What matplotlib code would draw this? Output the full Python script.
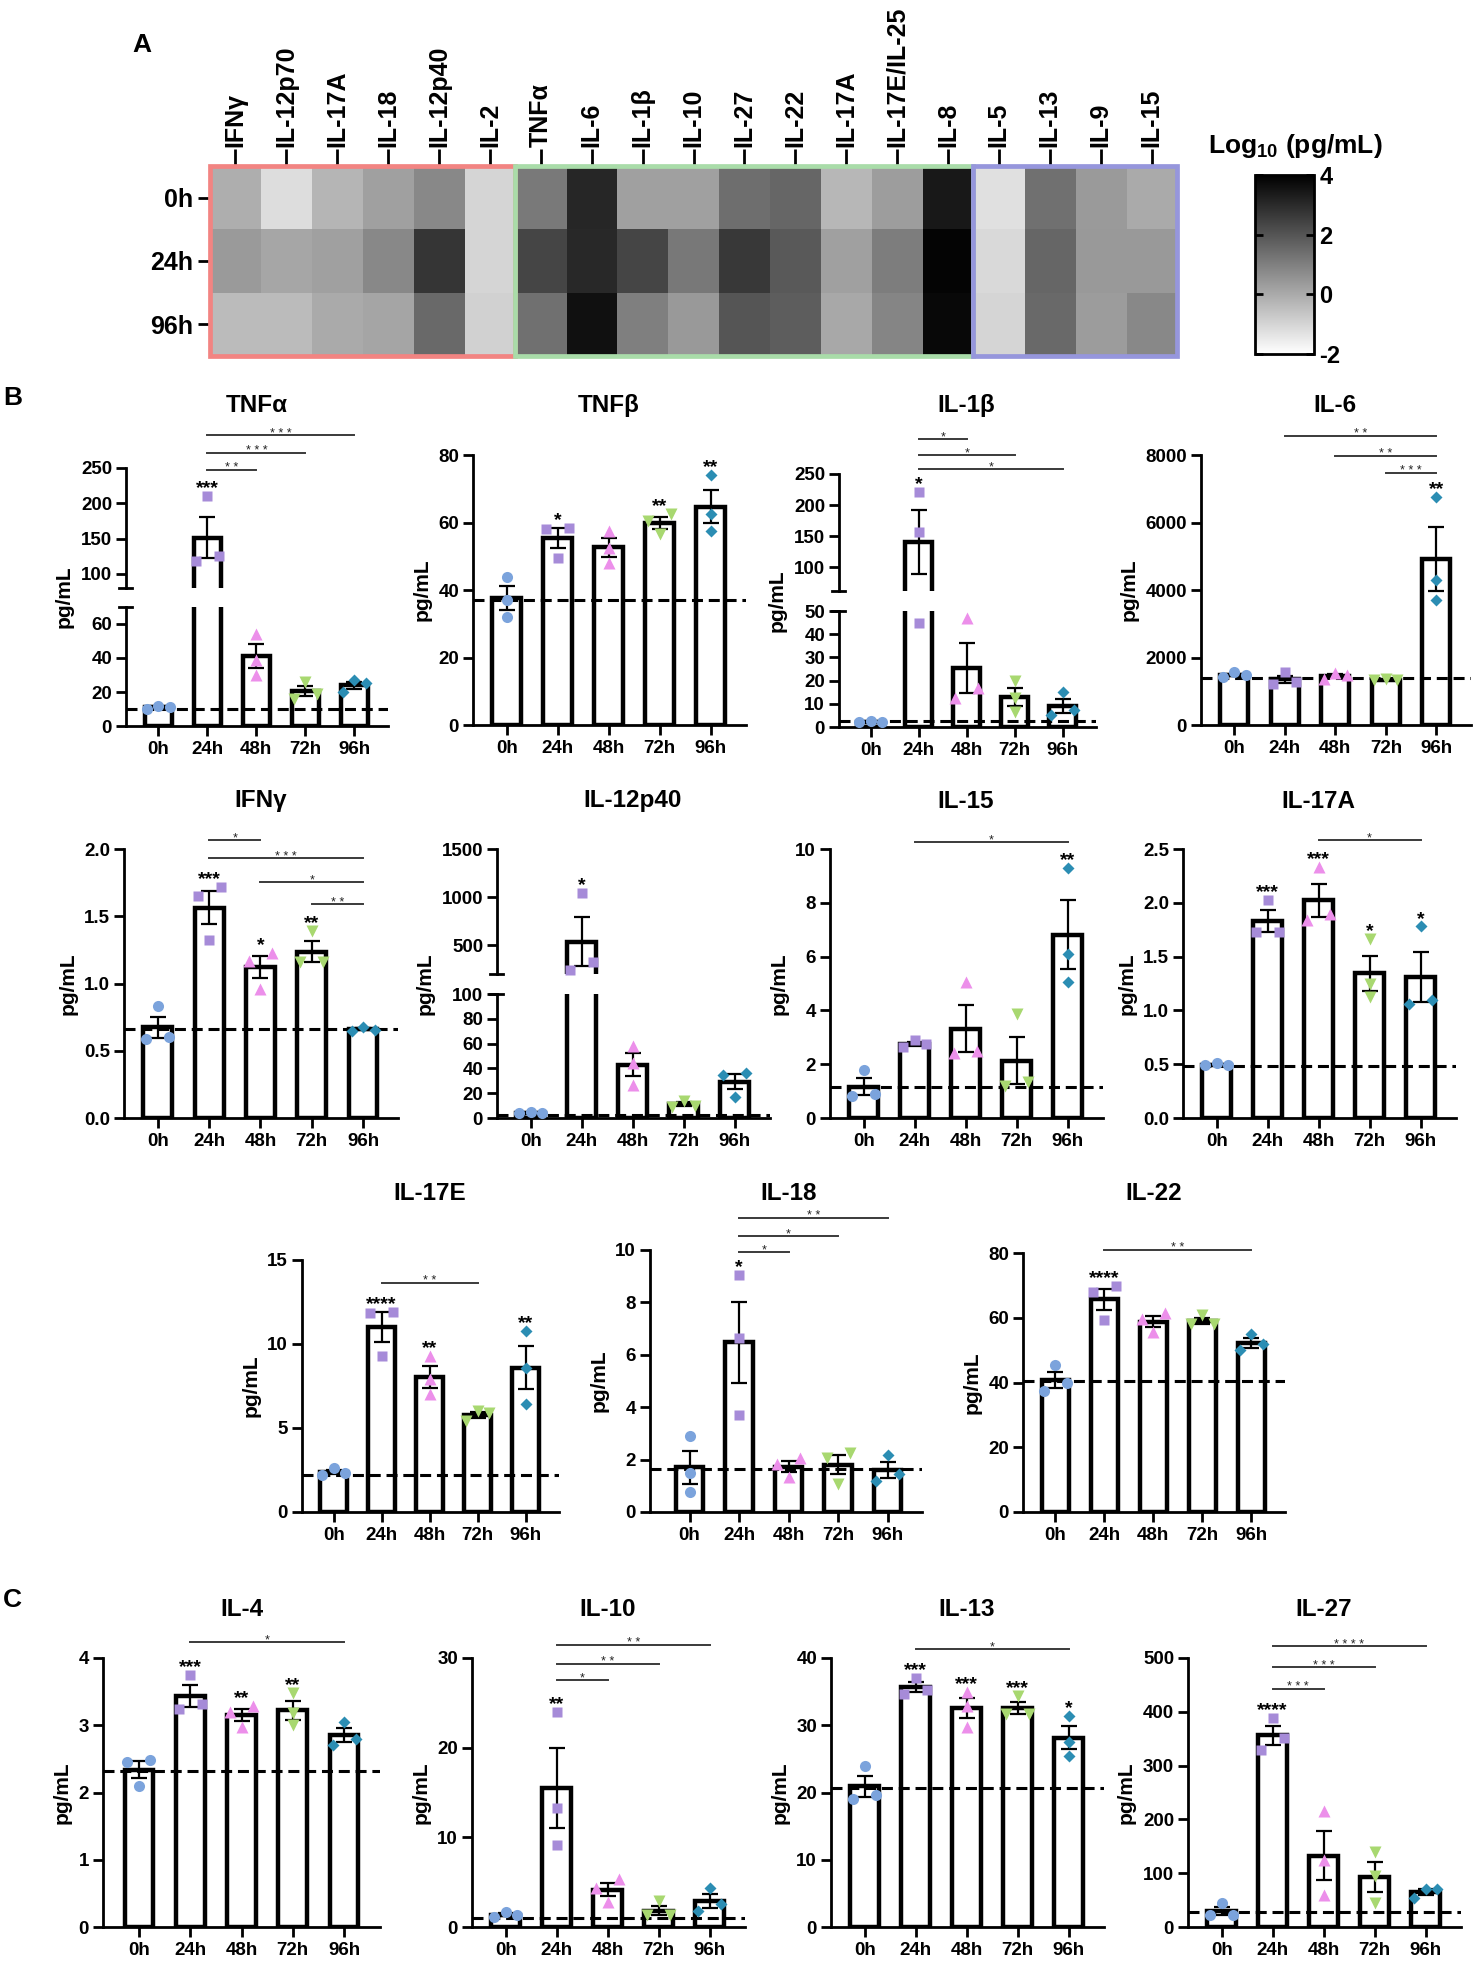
import numpy as np
import matplotlib
matplotlib.use('Agg')
import matplotlib.pyplot as plt
from matplotlib.colors import LinearSegmentedColormap
from matplotlib.patches import Rectangle
from matplotlib.lines import Line2D
from matplotlib.ticker import FormatStrFormatter

plt.rcParams['font.family'] = ['Liberation Sans', 'DejaVu Sans']
plt.rcParams['font.weight'] = 'bold'
plt.rcParams['axes.unicode_minus'] = False
plt.rcParams['mathtext.fontset'] = 'custom'
plt.rcParams['mathtext.rm'] = 'Liberation Sans:bold'
plt.rcParams['mathtext.it'] = 'Liberation Sans:bold'
plt.rcParams['mathtext.bf'] = 'Liberation Sans:bold'

# ---------------- data ----------------
timepoints = ['0h', '24h', '48h', '72h', '96h']

heat_cytokines = ['IFNγ', 'IL-12p70', 'IL-17A', 'IL-18', 'IL-12p40', 'IL-2', 'TNFα', 'IL-6', 'IL-1β',
                  'IL-10', 'IL-27', 'IL-22', 'IL-17A', 'IL-17E/IL-25', 'IL-8', 'IL-5', 'IL-13', 'IL-9', 'IL-15']
heat_times = ['0h', '24h', '96h']
heat_0h = [-0.1, -1.2, -0.26, 0.24, 0.8, -1.0, 1.13, 3.1, 0.24, 0.24, 1.4, 1.6, -0.3, 0.3, 3.4, -1.27, 1.36, 0.37, 0.0]
heat_24h = [0.37, 0.1, 0.24, 0.8, 2.75, -1.0, 2.37, 3.05, 2.37, 1.18, 2.68, 1.9, 0.24, 1.05, 3.9, -1.1, 1.6, 0.4, 0.4]
heat_96h = [-0.4, -0.4, 0.0, 0.12, 1.5, -0.9, 1.36, 3.6, 1.0, 0.4, 2.0, 1.8, 0.05, 0.87, 3.77, -1.0, 1.5, 0.33, 0.8]
heat_group_spans = [(0, 6), (6, 15), (15, 19)]

# replicate points per timepoint (0h, 24h, 48h, 72h, 96h)
tnfa_pts = [[10, 12, 11], [118, 210, 126], [54, 39, 30], [16, 26, 19], [20, 27, 25]]
tnfa_base = 10.2
tnfa_stars = ['', '***', '', '', '']
tnfa_brk = [(1, 2, '**'), (1, 3, '***'), (1, 4, '***')]

tnfb_pts = [[44, 37, 32], [58.5, 49.5, 58], [57.5, 52.5, 48], [62.5, 56.5, 60.5], [74, 62.5, 57.5]]
tnfb_base = 37.1
tnfb_stars = ['', '*', '', '**', '**']
tnfb_brk = []

il1b_pts = [[2.0, 2.8, 2.3], [221, 157, 45], [47, 12.5, 17], [20, 12.5, 6.5], [15, 5, 7.5]]
il1b_base = 2.4
il1b_stars = ['', '*', '', '', '']
il1b_brk = [(1, 2, '*'), (1, 3, '*'), (1, 4, '*')]

il6_pts = [[1420, 1560, 1470], [1225, 1560, 1285], [1370, 1550, 1480], [1330, 1350, 1340], [6765, 4285, 3695]]
il6_base = 1400
il6_stars = ['', '', '', '', '**']
il6_brk = [(3, 4, '***'), (2, 4, '**'), (1, 4, '**')]

ifng_pts = [[0.83, 0.59, 0.6], [1.72, 1.65, 1.32], [1.23, 1.17, 0.96], [1.39, 1.16, 1.16], [0.655, 0.68, 0.65]]
ifng_base = 0.663
ifng_stars = ['', '***', '*', '**', '']
ifng_brk = [(3, 4, '**'), (2, 4, '*'), (1, 4, '***'), (1, 2, '*')]

il12p40_pts = [[4, 5, 4], [241, 1041, 328], [57.8, 44.6, 26.5], [9, 14, 10], [36, 17, 35]]
il12p40_base = 2.6
il12p40_stars = ['', '*', '', '', '']
il12p40_brk = []

il15_pts = [[1.8, 0.8, 0.9], [2.9, 2.65, 2.75], [5.05, 2.4, 2.5], [3.85, 1.2, 1.35], [9.3, 6.1, 5.05]]
il15_base = 1.166
il15_stars = ['', '', '', '', '**']
il15_brk = [(1, 4, '*')]

il17a_pts = [[0.49, 0.51, 0.49], [2.03, 1.73, 1.73], [2.33, 1.84, 1.9], [1.66, 1.25, 1.12], [1.78, 1.06, 1.1]]
il17a_base = 0.485
il17a_stars = ['', '***', '***', '*', '*']
il17a_brk = [(2, 4, '*')]

il17e_pts = [[2.18, 2.6, 2.35], [11.9, 11.85, 9.27], [9.27, 7.9, 7.0], [6.0, 5.4, 5.9], [10.8, 8.6, 6.4]]
il17e_base = 2.22
il17e_stars = ['', '****', '**', '', '**']
il17e_brk = [(1, 3, '**')]

il18_pts = [[2.9, 1.5, 0.75], [9.05, 6.64, 3.72], [2.05, 1.82, 1.32], [2.26, 2.07, 1.08], [2.16, 1.18, 1.46]]
il18_base = 1.65
il18_stars = ['', '*', '', '', '']
il18_brk = [(1, 2, '*'), (1, 3, '*'), (1, 4, '**')]

il22_pts = [[45.4, 37.3, 39.8], [69.7, 67.9, 59.4], [61.5, 59.5, 55.5], [61, 58, 58], [55, 50, 51.8]]
il22_base = 40.4
il22_stars = ['', '****', '', '', '']
il22_brk = [(1, 4, '**')]

il4_pts = [[2.485, 2.45, 2.09], [3.75, 3.235, 3.32], [3.29, 3.2, 2.975], [3.475, 3.186, 3.0], [3.05, 2.705, 2.79]]
il4_base = 2.32
il4_stars = ['', '***', '**', '**', '']
il4_brk = [(1, 4, '*')]

il10_pts = [[1.07, 1.65, 1.36], [24, 13.3, 9.2], [5.3, 4.3, 2.83], [2.9, 1.3, 1.3], [4.3, 1.84, 2.54]]
il10_base = 1.0
il10_stars = ['', '**', '', '', '']
il10_brk = [(1, 2, '*'), (1, 3, '**'), (1, 4, '**')]

il13_pts = [[24, 19, 19.7], [37.1, 34.7, 35.2], [34.9, 32.9, 29.75], [34.4, 31.6, 31.7], [31.4, 27.5, 25.5]]
il13_base = 20.7
il13_stars = ['', '***', '***', '***', '*']
il13_brk = [(1, 4, '*')]

il27_pts = [[44, 22.7, 22.7], [389, 351, 329], [214.7, 124, 59.5], [139, 94.5, 44], [53, 70, 70]]
il27_base = 28.8
il27_stars = ['', '****', '', '', '']
il27_brk = [(1, 2, '***'), (1, 3, '***'), (1, 4, '****')]

# ---------------- style ----------------
group_edge_colors = ['#F28482', '#A9DCA9', '#9696DC']
pt_markers = ['o', 's', '^', 'v', 'D']
pt_colors = ['#7BA3DC', '#A68BD8', '#EC8FEA', '#A8D870', '#2B8DB3']
pt_sizes = [8.0, 7.4, 8.6, 8.6, 6.3]

W, H = 1476, 1967
fig = plt.figure(figsize=(W / 100, H / 100), dpi=100)
fig.patch.set_facecolor('white')


def fy(y):
    return 1 - y / H


def add_ax(x0, x1, y_top, y_bot):
    return fig.add_axes([x0 / W, fy(y_bot), (x1 - x0) / W, (y_bot - y_top) / H])


# ---------------- panel A: heatmap ----------------
hax = add_ax(210, 1177, 166, 356)
heat = np.array([heat_0h, heat_24h, heat_96h])
cmap = LinearSegmentedColormap.from_list('wb', ['#ffffff', '#000000'])
im = hax.imshow(heat, cmap=cmap, vmin=-2, vmax=4, aspect='auto', interpolation='nearest')
hax.xaxis.tick_top()
hax.set_xticks(range(len(heat_cytokines)))
hax.set_xticklabels(heat_cytokines, rotation=90, fontsize=18, fontweight='bold')
hax.set_yticks(range(len(heat_times)))
hax.set_yticklabels(heat_times, fontsize=18, fontweight='bold')
hax.tick_params(axis='x', length=12, width=2, pad=2)
hax.tick_params(axis='y', length=9, width=2, pad=3)
for s in hax.spines.values():
    s.set_visible(False)
for (a, b), c in zip(heat_group_spans, group_edge_colors):
    hax.add_patch(Rectangle((a - 0.5, -0.5), b - a, len(heat_times), fill=False, edgecolor=c,
                            lw=3.4, clip_on=False, zorder=3))

cax = add_ax(1255, 1314, 175, 354)
cb = fig.colorbar(im, cax=cax, ticks=[-2, 0, 2, 4])
cb.outline.set_linewidth(2)
cax.yaxis.set_ticks_position('both')
cax.tick_params(length=6, width=2, direction='in', labelleft=False, labelright=True,
                labelsize=17, pad=4)
fig.text(1295 / W, fy(146), r'Log$_{10}$ (pg/mL)', ha='center', va='center', fontsize=19,
         fontweight='bold')

fig.text(142 / W, fy(45), 'A', ha='center', va='center', fontsize=19, fontweight='bold')
fig.text(3 / W, fy(398), 'B', ha='left', va='center', fontsize=19, fontweight='bold')
fig.text(3 / W, fy(1600), 'C', ha='left', va='center', fontsize=19, fontweight='bold')

# ---------------- bar panels ----------------
PX_PER_PT = 100 / 72.0
panels_for_labels = []


def bar_panel(title, pts, base, stars, brackets, L):
    left, sp = L['left'], L['sp']
    xl = L.get('xl', 0.66)
    xr = 0.69
    right = min(left + (4 + xl + xr) * sp, W - 2)
    xr = (right - left) / sp - 4 - xl
    segs = L['segs']
    pts = [np.asarray(p, float) for p in pts]
    means = np.array([p.mean() for p in pts])
    sems = np.array([p.std(ddof=1) / np.sqrt(len(p)) for p in pts])
    x = np.arange(len(pts))
    axes = []
    for k, (ylo, yhi, yb, yt, ticks) in enumerate(segs):
        ax = add_ax(left, right, yt, yb)
        ax.patch.set_visible(False)
        ax.set_xlim(-xl, 4 + xr)
        ax.set_ylim(ylo, yhi)
        ax.bar(x, means, width=0.56, color='white', edgecolor='black', linewidth=3.2, zorder=2)
        ax.errorbar(x, means, yerr=sems, fmt='none', ecolor='black', elinewidth=1.6,
                    capsize=5.5, capthick=1.6, zorder=3)
        if ylo <= base <= yhi:
            ax.axhline(base, color='black', lw=2.2, ls=(0, (3.6, 1.9)), zorder=3.5)
        for s in ['top', 'right']:
            ax.spines[s].set_visible(False)
        ax.spines['left'].set_linewidth(2)
        ax.spines['bottom'].set_linewidth(2)
        ax.set_yticks(ticks)
        if L.get('fmt'):
            ax.yaxis.set_major_formatter(FormatStrFormatter(L['fmt']))
        ax.tick_params(axis='y', length=7, width=2, labelsize=13.5, pad=3)
        for t in ax.get_yticklabels():
            t.set_fontweight('bold')
        if k == 0:
            ax.set_xticks(x)
            ax.set_xticklabels(timepoints, fontsize=13.5, fontweight='bold')
            ax.tick_params(axis='x', length=7, width=2, pad=4)
        else:
            ax.spines['bottom'].set_visible(False)
            ax.set_xticks([])
        axes.append(ax)

    # break marks
    if len(segs) > 1:
        for k, ax in enumerate(axes):
            yy = []
            if k > 0:
                yy.append(0)
            if k < len(axes) - 1:
                yy.append(1)
            for yv in yy:
                bb = ax.get_position()
                yfig = bb.y0 + yv * bb.height
                fig.add_artist(Line2D([(left - 7) / W, (left + 6) / W], [yfig, yfig],
                                      transform=fig.transFigure, color='black', lw=2))

    def seg_of(v):
        for k, s in enumerate(segs):
            if s[0] <= v <= s[1]:
                return k
        d = [min(abs(v - s[0]), abs(v - s[1])) for s in segs]
        return int(np.argmin(d))

    def disp_y(v):
        return axes[seg_of(v)].transData.transform((0, v))[1]

    def disp_x(xv):
        return axes[0].transData.transform((xv, 0))[0]

    dx = 11.5 / sp
    for i, p in enumerate(pts):
        ys = np.array([disp_y(v) for v in p])
        order = list(np.argsort(ys))
        offs = np.zeros(len(p))
        clusters, cur = [], [order[0]]
        for a, b in zip(order[:-1], order[1:]):
            if ys[b] - ys[a] < 12:
                cur.append(b)
            else:
                clusters.append(cur)
                cur = [b]
        clusters.append(cur)
        for c in clusters:
            if len(c) == 2:
                offs[c[0]], offs[c[1]] = -dx, dx
            elif len(c) >= 3:
                offs[c[0]], offs[c[1]], offs[c[2]] = -dx, dx, 0
        for v, o in zip(p, offs):
            axes[seg_of(v)].plot(i + o, v, marker=pt_markers[i], color=pt_colors[i], ms=pt_sizes[i],
                                 ls='none', mec='none', zorder=5, clip_on=False)
        if stars[i]:
            gc = max(ys.max() + 14, disp_y(means[i] + sems[i]) + 9)
            fs = 14
            yb_ = gc - 0.575 * fs * PX_PER_PT
            fig.text(disp_x(i) / W, yb_ / H, stars[i], ha='center', va='baseline', fontsize=fs,
                     fontweight='bold')

    bot_full = segs[0][2]
    top_full = segs[-1][3]
    for (a, b, lab), yf in zip(brackets, L.get('brk_y', [])):
        y_img = bot_full - yf * (bot_full - top_full)
        x1, x2 = disp_x(a), disp_x(b)
        fig.add_artist(Line2D([x1 / W, x2 / W], [fy(y_img), fy(y_img)], transform=fig.transFigure,
                              color='#3a3a3a', lw=1.4))
        fig.text((x1 + x2) / 2 / W, fy(y_img + 1.4), ' '.join(lab), ha='center', va='baseline',
                 fontsize=9, fontweight='normal', color='#222222')

    fig.text(disp_x(2) / W, fy(L['title_y']), title, ha='center', va='center', fontsize=17.5,
             fontweight='bold')
    panels_for_labels.append((axes, bot_full, top_full))


R1, R2, R3, R4 = 405, 801, 1193, 1609

bar_panel('TNFα', tnfa_pts, tnfa_base, tnfa_stars, tnfa_brk,
          dict(left=126, sp=49, title_y=R1,
               segs=[(0, 70, 726, 607, [0, 20, 40, 60]), (80, 250, 588, 468, [100, 150, 200, 250])],
               brk_y=[0.992, 1.06, 1.127]))
bar_panel('TNFβ', tnfb_pts, tnfb_base, tnfb_stars, tnfb_brk,
          dict(left=473, sp=51, title_y=R1, segs=[(0, 80, 725, 455, [0, 20, 40, 60, 80])]))
bar_panel('IL-1β', il1b_pts, il1b_base, il1b_stars, il1b_brk,
          dict(left=839, sp=48, title_y=R1,
               segs=[(0, 50, 727, 611, [0, 10, 20, 30, 40, 50]), (62, 250, 591, 474, [100, 150, 200, 250])],
               brk_y=[1.14, 1.074, 1.018]))
bar_panel('IL-6', il6_pts, il6_base, il6_stars, il6_brk,
          dict(left=1201, sp=50.5, title_y=R1, segs=[(0, 8000, 725, 455, [0, 2000, 4000, 6000, 8000])],
               brk_y=[0.934, 0.998, 1.071]))

bar_panel('IFNγ', ifng_pts, ifng_base, ifng_stars, ifng_brk,
          dict(left=124, sp=51.3, title_y=R2, segs=[(0, 2, 1118, 849, [0, 0.5, 1, 1.5, 2])], fmt='%.1f',
               brk_y=[0.794, 0.878, 0.966, 1.034]))
bar_panel('IL-12p40', il12p40_pts, il12p40_base, il12p40_stars, il12p40_brk,
          dict(left=497, sp=51, title_y=R2,
               segs=[(0, 100, 1118, 994, [0, 20, 40, 60, 80, 100]), (200, 1500, 974, 849, [500, 1000, 1500])]))
bar_panel('IL-15', il15_pts, il15_base, il15_stars, il15_brk,
          dict(left=830, sp=51, title_y=R2, segs=[(0, 10, 1118, 849, [0, 2, 4, 6, 8, 10])], brk_y=[1.025]))
bar_panel('IL-17A', il17a_pts, il17a_base, il17a_stars, il17a_brk,
          dict(left=1183, sp=51, title_y=R2, segs=[(0, 2.5, 1118, 849, [0, 0.5, 1, 1.5, 2, 2.5])], fmt='%.1f',
               brk_y=[1.034]))

bar_panel('IL-17E', il17e_pts, il17e_base, il17e_stars, il17e_brk,
          dict(left=302, sp=48, title_y=R3, segs=[(0, 15, 1512, 1260, [0, 5, 10, 15])], brk_y=[0.91]))
bar_panel('IL-18', il18_pts, il18_base, il18_stars, il18_brk,
          dict(left=650, sp=49.5, xl=0.8, title_y=R3, segs=[(0, 10, 1512, 1250, [0, 2, 4, 6, 8, 10])],
               brk_y=[0.991, 1.053, 1.123]))
bar_panel('IL-22', il22_pts, il22_base, il22_stars, il22_brk,
          dict(left=1023, sp=49, title_y=R3, segs=[(0, 80, 1512, 1253, [0, 20, 40, 60, 80])], brk_y=[1.013]))

bar_panel('IL-4', il4_pts, il4_base, il4_stars, il4_brk,
          dict(left=103, sp=51.3, xl=0.7, title_y=R4, segs=[(0, 4, 1927, 1658, [0, 1, 2, 3, 4])], brk_y=[1.06]))
bar_panel('IL-10', il10_pts, il10_base, il10_stars, il10_brk,
          dict(left=472, sp=51, title_y=R4, segs=[(0, 30, 1927, 1658, [0, 10, 20, 30])],
               brk_y=[0.917, 0.978, 1.048]))
bar_panel('IL-13', il13_pts, il13_base, il13_stars, il13_brk,
          dict(left=831, sp=51, title_y=R4, segs=[(0, 40, 1927, 1658, [0, 10, 20, 30, 40])], brk_y=[1.033]))
bar_panel('IL-27', il27_pts, il27_base, il27_stars, il27_brk,
          dict(left=1188, sp=51, title_y=R4, segs=[(0, 500, 1927, 1658, [0, 100, 200, 300, 400, 500])],
               brk_y=[0.886, 0.966, 1.043]))

# y labels placed left of the widest tick label
fig.canvas.draw()
renderer = fig.canvas.get_renderer()
for axes, bot_full, top_full in panels_for_labels:
    minx = min(t.get_window_extent(renderer).x0 for ax in axes for t in ax.get_yticklabels()
               if t.get_text())
    yc = (fy(bot_full) + fy(top_full)) / 2
    fig.text((minx - 7) / W, yc, 'pg/mL', rotation=90, ha='right', va='center', fontsize=15,
             fontweight='bold')

fig.savefig('out.png', dpi=100, facecolor='white')
